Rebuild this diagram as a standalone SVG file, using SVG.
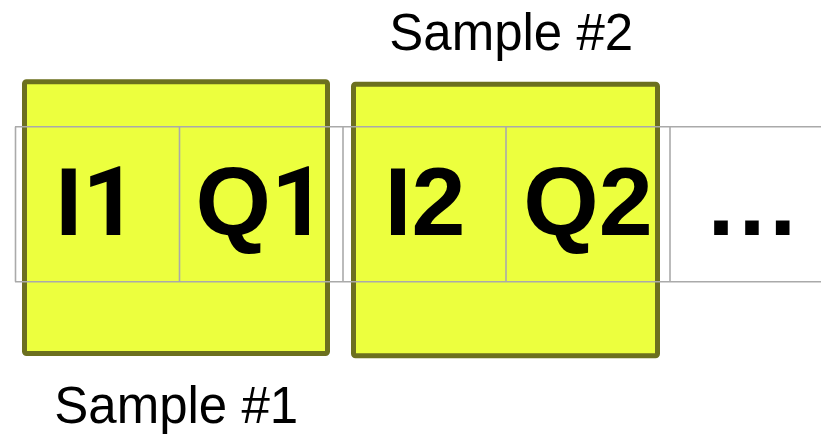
<svg xmlns="http://www.w3.org/2000/svg" width="821" height="434" viewBox="0 0 821 434">
<style>
.box{fill:#ecff3e;stroke:#6c701f;stroke-width:5}
.grid{stroke:#aaaaaa;stroke-width:1.6;fill:none}
.big{font-family:"Liberation Sans",Arial,sans-serif;font-weight:bold;font-size:97px;fill:#000;text-anchor:middle}
.one{font-family:Roboto,"Liberation Sans",sans-serif;font-weight:bold}
.lbl{font-family:"Liberation Sans",Arial,sans-serif;font-size:51px;fill:#000}
</style>
<rect width="821" height="434" fill="#fff"/>
<g id="sample1">
<rect class="box" x="24.5" y="81.8" width="303" height="271.7" rx="2"/>
</g>
<g id="sample2">
<rect class="box" x="353.5" y="84.2" width="304" height="271.6" rx="2"/>
</g>
<g id="connectors">
<line class="grid" x1="15" y1="126.7" x2="821" y2="126.7"/>
<line class="grid" x1="15" y1="281.7" x2="821" y2="281.7"/>
<line class="grid" x1="15.5" y1="126.7" x2="15.5" y2="281.7"/>
<line class="grid" x1="179.5" y1="126.7" x2="179.5" y2="281.7"/>
<line class="grid" x1="343" y1="126.7" x2="343" y2="281.7"/>
<line class="grid" x1="506" y1="126.7" x2="506" y2="281.7"/>
<line class="grid" x1="670" y1="126.7" x2="670" y2="281.7"/>
</g>
<g id="cells">
<text class="big" x="96.5" y="235">I<tspan class="one">1</tspan></text>
<text class="big" x="261" y="235">Q<tspan class="one">1</tspan></text>
<text class="big" x="425" y="235">I2</text>
<text class="big" x="588" y="235">Q2</text>
<text class="big" x="752" y="234.5">…</text>
</g>
<g id="labels">
<text class="lbl" x="54.3" y="422.5">Sample #1</text>
<text class="lbl" x="389.3" y="50.3">Sample #2</text>
</g>
</svg>
